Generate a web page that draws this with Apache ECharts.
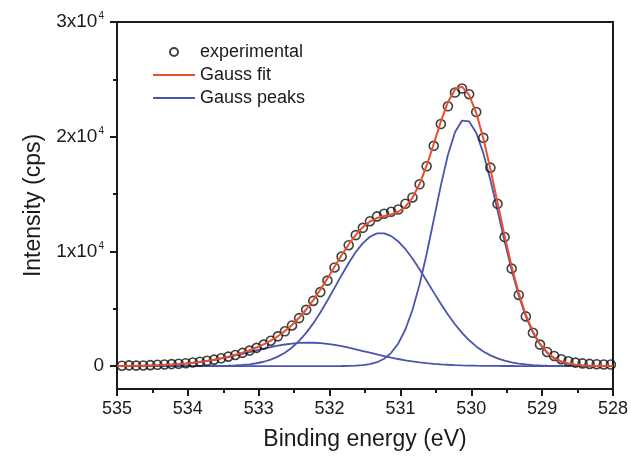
<!DOCTYPE html>
<html>
<head>
<meta charset="utf-8">
<script src="https://cdn.jsdelivr.net/npm/echarts@6/dist/echarts.min.js"></script>
<style>
html,body{margin:0;padding:0;background:#fff;}
#chart{width:631px;height:456px;}
</style>
</head>
<body>
<div id="chart"></div>
<script>
// Binding energies of the measured points (eV)
const energy = [534.93, 534.83, 534.73, 534.63, 534.53, 534.43, 534.33, 534.23, 534.13, 534.03,
  533.93, 533.83, 533.73, 533.63, 533.53, 533.43, 533.33, 533.23, 533.13, 533.03,
  532.93, 532.83, 532.73, 532.63, 532.53, 532.43, 532.33, 532.23, 532.13, 532.03,
  531.93, 531.83, 531.73, 531.63, 531.53, 531.43, 531.33, 531.23, 531.13, 531.03,
  530.93, 530.83, 530.73, 530.63, 530.53, 530.43, 530.33, 530.23, 530.13, 530.03,
  529.93, 529.83, 529.73, 529.63, 529.53, 529.43, 529.33, 529.23, 529.13, 529.03,
  528.93, 528.83, 528.73, 528.63, 528.53, 528.43, 528.33, 528.23, 528.13, 528.03];
// Measured intensity (cps)
const experimental = [30, 60, 40, 50, 80, 110, 140, 170, 200, 250,
  310, 380, 460, 560, 680, 820, 970, 1150, 1350, 1590,
  1870, 2210, 2590, 3030, 3540, 4180, 4900, 5680, 6450, 7450,
  8600, 9550, 10540, 11420, 12050, 12630, 13050, 13280, 13450, 13650,
  14150, 14700, 15850, 17420, 19200, 21100, 22650, 23850, 24200, 23700,
  22150, 19900, 17300, 14150, 11250, 8500, 6200, 4330, 2900, 1870,
  1230, 880, 600, 420, 300, 230, 190, 160, 140, 130];
// Energies for the fitted curves: the axis ends plus the measured energies
const lineEnergy = [535.0].concat(energy, [528.0]);
const gaussFit = [9, 12, 17, 25, 36, 51, 70, 95, 128, 169, 221,
  285, 361, 452, 559, 682, 823, 985, 1168, 1377, 1617,
  1895, 2218, 2598, 3049, 3582, 4207, 4932, 5754, 6666, 7643,
  8658, 9661, 10605, 11437, 12114, 12605, 12913, 13081, 13220, 13450,
  13895, 14675, 15870, 17471, 19363, 21312, 23008, 24119, 24361, 23624,
  22079, 19864, 17173, 14259, 11358, 8679, 6355, 4462, 3001, 1934,
  1194, 707, 400, 218, 113, 56, 27, 12, 5, 2, 1];
const peak1 = [0, 0, 0, 0, 0, 0, 0, 0, 0, 0, 0,
  0, 0, 0, 0, 0, 0, 0, 0, 0, 0,
  0, 0, 0, 0, 0, 0, 0, 0, 0, 0,
  2, 6, 15, 35, 79, 167, 336, 640, 1154, 1972,
  3190, 4889, 7101, 9772, 12739, 15729, 18398, 20390, 21407, 21332,
  20337, 18567, 16228, 13584, 10886, 8355, 6138, 4319, 2910, 1877,
  1159, 686, 388, 211, 109, 54, 26, 12, 5, 2, 1];
const peak2 = [0, 0, 0, 0, 0, 0, 0, 0, 0, 0, 1,
  2, 3, 6, 11, 20, 34, 58, 96, 155, 245,
  376, 563, 820, 1168, 1621, 2192, 2893, 3721, 4669, 5711,
  6813, 7924, 8988, 9941, 10722, 11276, 11564, 11570, 11329, 10863,
  10200, 9377, 8443, 7443, 6425, 5432, 4496, 3645, 2893, 2248,
  1711, 1275, 930, 665, 465, 319, 214, 141, 90, 57,
  35, 21, 12, 7, 4, 2, 1, 0, 0, 0, 0];
const peak3 = [9, 12, 17, 25, 36, 51, 70, 95, 128, 169, 220,
  283, 358, 446, 548, 662, 789, 927, 1072, 1222, 1372,
  1519, 1655, 1778, 1881, 1961, 2015, 2039, 2033, 1997, 1932,
  1843, 1731, 1602, 1461, 1313, 1162, 1013, 871, 737, 615,
  505, 409, 326, 256, 199, 151, 114, 84, 61, 44,
  31, 22, 15, 10, 7, 5, 3, 2, 1, 0,
  0, 0, 0, 0, 0, 0, 0, 0, 0, 0, 0];
const yMajorTicks = [0, 10000, 20000, 30000];
const yMinorTicks = [5000, 15000, 25000];

const pairs = (xs, ys) => xs.map((x, i) => [x, ys[i]]);
const FONT = '"Liberation Sans", Arial, sans-serif';
const INK = '#1a1a1a';
const RED = '#e8502e';
const BLUE = '#4a55ae';

const chart = echarts.init(document.getElementById('chart'), null, {renderer: 'canvas'});
const blueLine = (data) => ({
  name: 'Gauss peaks', type: 'line', data: data, symbol: 'none', z: 2,
  lineStyle: {color: BLUE, width: 1.8}, itemStyle: {color: BLUE}
});
chart.setOption({
  animation: false,
  backgroundColor: '#fff',
  textStyle: {fontFamily: FONT},
  grid: {left: 117, right: 16, top: 22, bottom: 65, show: true, borderColor: INK, borderWidth: 2, backgroundColor: 'transparent'},
  legend: {
    left: 147, top: 38, orient: 'vertical', itemWidth: 42, itemHeight: 8, itemGap: 5,
    textStyle: {fontSize: 18, color: INK, lineHeight: 18, fontFamily: FONT},
    data: [
      {name: 'experimental'},
      {name: 'Gauss fit', itemStyle: {opacity: 0}},
      {name: 'Gauss peaks', itemStyle: {opacity: 0}}
    ]
  },
  xAxis: {
    type: 'value', min: 528, max: 535, interval: 1, inverse: true,
    axisLine: {show: true, onZero: false, lineStyle: {color: INK, width: 2}},
    axisTick: {show: true, length: 7, lineStyle: {color: INK, width: 2}},
    minorTick: {show: true, splitNumber: 2, length: 4, lineStyle: {color: INK, width: 2}},
    splitLine: {show: false},
    axisLabel: {fontSize: 18, color: INK, margin: 11, fontFamily: FONT},
    name: 'Binding energy (eV)', nameLocation: 'middle', nameGap: 39,
    nameTextStyle: {fontSize: 23, color: INK, fontFamily: FONT}
  },
  yAxis: [{
    type: 'value', min: -2000, max: 30000, position: 'left',
    axisLine: {show: true, onZero: false, lineStyle: {color: INK, width: 2}},
    axisTick: {show: true, length: 7, customValues: yMajorTicks, lineStyle: {color: INK, width: 2}},
    splitLine: {show: false},
    axisLabel: {
      customValues: yMajorTicks, margin: 13, color: INK, fontSize: 19, fontFamily: FONT,
      formatter: (v) => v === 0 ? '{b|0}' : '{b|' + Math.round(v / 10000) + 'x10}{s|4}',
      rich: {
        b: {fontSize: 19, color: INK, fontFamily: FONT},
        s: {fontSize: 10, color: INK, fontFamily: FONT, padding: [0, 0, 11, 1]}
      }
    },
    name: 'Intensity (cps)', nameLocation: 'middle', nameGap: 72,
    nameTextStyle: {fontSize: 23, color: INK, fontFamily: FONT}
  }, {
    type: 'value', min: -2000, max: 30000, position: 'left',
    axisLine: {show: false, onZero: false},
    axisTick: {show: true, length: 4, customValues: yMinorTicks, lineStyle: {color: INK, width: 2}},
    axisLabel: {show: false},
    splitLine: {show: false}
  }],
  series: [
    {
      name: 'experimental', type: 'scatter', data: pairs(energy, experimental),
      symbol: 'circle', symbolSize: 9, z: 3,
      itemStyle: {color: 'rgba(255,255,255,0)', borderColor: '#111', borderWidth: 1.6}
    },
    {
      name: 'Gauss fit', type: 'line', data: pairs(lineEnergy, gaussFit), symbol: 'none', z: 4,
      lineStyle: {color: RED, width: 2}, itemStyle: {color: RED}
    },
    blueLine(pairs(lineEnergy, peak1)),
    blueLine(pairs(lineEnergy, peak2)),
    blueLine(pairs(lineEnergy, peak3))
  ]
});
</script>
</body>
</html>
